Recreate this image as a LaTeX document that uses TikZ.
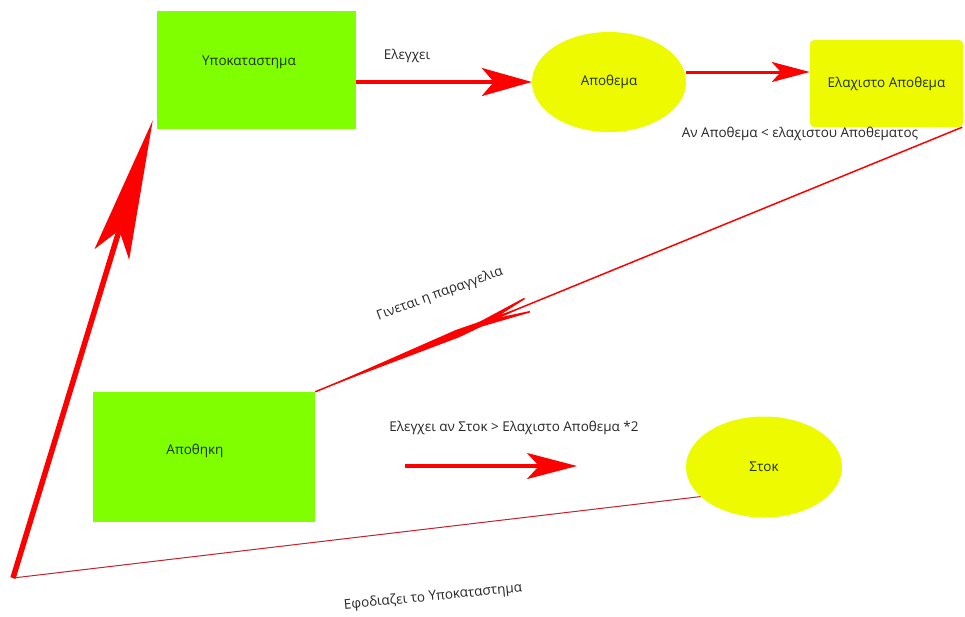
\documentclass[tikz,border=0pt]{standalone}
\usepackage{fontspec}
\setmainfont{Open Sans}
\usetikzlibrary{arrows.meta,decorations.markings,shapes.geometric}
\definecolor{boxgreen}{HTML}{7FFF00}
\definecolor{ellyellow}{HTML}{EEFA00}
\definecolor{boxtext}{HTML}{1E3200}
\definecolor{thinred}{HTML}{C8202A}
\tikzset{
  greenbox/.style={fill=boxgreen, draw=none, minimum width=#1, inner sep=0pt},
  boxlbl/.style={text=boxtext, font=\fontsize{13.5}{16}\selectfont, inner sep=0pt},
  yellowell/.style={ellipse, fill=ellyellow, draw=none, inner sep=0pt, text=boxtext, font=\fontsize{13.5}{16}\selectfont},
  lbl/.style={text=black!85, font=\fontsize{13.5}{16}\selectfont, inner sep=0pt},
}
\begin{document}
\begin{tikzpicture}[x=1pt,y=-1pt]
\useasboundingbox (0,0) rectangle (965,616);
\fill[white] (0,0) rectangle (965,616);
% nodes
\node[greenbox=199pt, minimum height=118pt] (upo) at (256.5,70) {};
\node[boxlbl] at (249,62) {Υποκαταστημα};
\node[yellowell, minimum width=154pt, minimum height=100pt] (apo) at (609,82) {Αποθεμα};
\node[fill=ellyellow, rounded corners=4pt, minimum width=153pt, minimum height=87pt, inner sep=0pt, text=boxtext, font=\fontsize{13.5}{16}\selectfont] (elax) at (886.5,83.5) {Ελαχιστο Αποθεμα};
\node[greenbox=222pt, minimum height=130pt] (apod) at (204,457) {};
\node[boxlbl] at (195,451) {Αποθηκη};
\node[yellowell, minimum width=156pt, minimum height=101pt] (stok) at (764,467) {Στοκ};
\coordinate (corner) at (13,578);
\coordinate (ma) at (405,466);
\coordinate (mb) at (577,466);
% labels
\node[lbl] at (407,56) {Ελεγχει};
\node[lbl] at (800,134) {Αν Αποθεμα < ελαχιστου Αποθεματος};
\node[lbl, rotate=20] at (440,294) {Γινεται η παραγγελια};
\node[lbl] at (514,428) {Ελεγχει αν Στοκ > Ελαχιστο Αποθεμα *2};
\node[lbl, rotate=5.5] at (433,597) {Εφοδιαζει το Υποκαταστημα};
% connectors
\draw[red, line width=3.5pt, -{Stealth[length=50pt, width=28pt, inset=12pt]}] (upo.east |- apo.west) -- (apo.west);
\draw[red, line width=3pt, -{Stealth[length=38pt, width=20pt, inset=9pt]}] ([yshift=10pt]apo.east) -- ([yshift=11.5pt]elax.west);
\draw[red, line width=3.5pt, -{Stealth[length=50pt, width=26pt, inset=12pt]}] (ma) -- (mb);
\draw[red, line width=5.5pt, -{Stealth[length=140pt, width=36pt, inset=25pt]}] (corner) -- ([xshift=-4pt,yshift=9pt]upo.south west);
\draw[thinred, line width=1pt] (corner) -- (stok.205);
\draw[red, line width=1.5pt, postaction={decorate}, decoration={markings,
    mark=at position 0.78 with {\arrow{Stealth[length=95pt, width=20pt, inset=55pt]}},
    mark=at position 0.78 with {\fill[red] (150pt,0pt) -- (0pt,4pt) -- (-70pt,0pt) -- (0pt,-4pt) -- cycle;}}]
  ([xshift=-1pt]elax.south east) -- (apod.north east);
\end{tikzpicture}
\end{document}
